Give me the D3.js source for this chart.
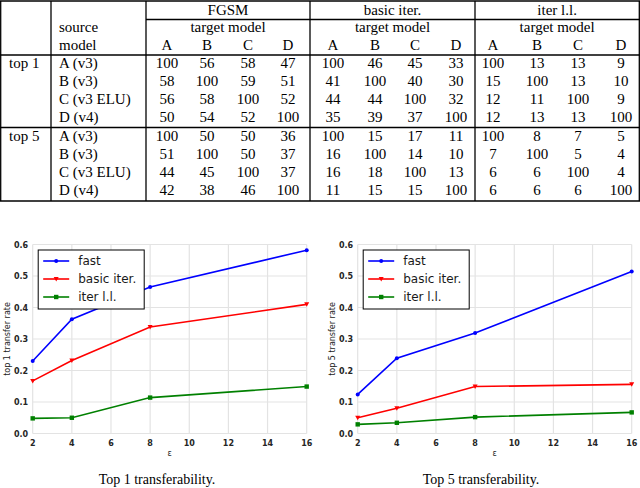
<!DOCTYPE html>
<html>
<head>
<meta charset="utf-8">
<script src="https://d3js.org/d3.v7.min.js"></script>
<style>
  body { margin: 0; background: #fff; }
</style>
</head>
<body>
<script>
// table data
var methods = ["FGSM", "basic iter.", "iter l.l."];
var targets = ["A", "B", "C", "D"];
var sources = ["A (v3)", "B (v3)", "C (v3 ELU)", "D (v4)"];
var groups = ["top 1", "top 5"];
// rows: source model, columns: method x target
var top1Vals = [
  [100, 56, 58, 47, 100, 46, 45, 33, 100, 13, 13, 9],
  [58, 100, 59, 51, 41, 100, 40, 30, 15, 100, 13, 10],
  [56, 58, 100, 52, 44, 44, 100, 32, 12, 11, 100, 9],
  [50, 54, 52, 100, 35, 39, 37, 100, 12, 13, 13, 100]
];
var top5Vals = [
  [100, 50, 50, 36, 100, 15, 17, 11, 100, 8, 7, 5],
  [51, 100, 50, 37, 16, 100, 14, 10, 7, 100, 5, 4],
  [44, 45, 100, 37, 16, 18, 100, 13, 6, 6, 100, 4],
  [42, 38, 46, 100, 11, 15, 15, 100, 6, 6, 6, 100]
];

// chart data
var eps = [2, 4, 8, 16];
var seriesNames = ["fast", "basic iter.", "iter l.l."];
var top1Fast = [0.23, 0.363, 0.465, 0.582];
var top1Basic = [0.167, 0.232, 0.338, 0.41];
var top1Ll = [0.048, 0.05, 0.114, 0.149];
var top5Fast = [0.124, 0.239, 0.319, 0.514];
var top5Basic = [0.05, 0.08, 0.149, 0.156];
var top5Ll = [0.029, 0.034, 0.052, 0.067];
var xTicks = [2, 4, 6, 8, 10, 12, 14, 16];
var yTicks = [0, 0.1, 0.2, 0.3, 0.4, 0.5, 0.6];

var W = 640, H = 488;
var svg = d3.select("body").append("svg")
  .attr("width", W)
  .attr("height", H);

// ---------- table ----------
var serif = "'Liberation Serif', 'Times New Roman', serif";
// column centres, the groups are not evenly spaced
var groupCenters = [167, 207, 248, 288, 333, 375, 415, 456, 493, 537, 578, 621];
var rowY = [63, 81, 99, 117, 136, 154, 172, 190];
var tbl = svg.append("g").attr("font-family", serif).attr("font-size", 15).attr("fill", "#000");

var lw = 1.3;
function hline(x1, x2, y) {
  tbl.append("line").attr("x1", x1).attr("x2", x2).attr("y1", y).attr("y2", y)
    .attr("stroke", "#000").attr("stroke-width", lw);
}
function vline(x, y1, y2) {
  tbl.append("line").attr("x1", x).attr("x2", x).attr("y1", y1).attr("y2", y2)
    .attr("stroke", "#000").attr("stroke-width", lw);
}
var tTop = 1, tBot = 201;
var vx = [0.7, 51, 146, 310, 475, 639.3];
hline(0, 640, tTop);
hline(146, 640, 19.5);
hline(0, 640, 55);
hline(0, 640, 127.5);
hline(0, 640, tBot);
vx.forEach(function(x) { vline(x, tTop, tBot); });

// method headers
methods.forEach(function(m, i) {
  var cx = (vx[i + 2] + vx[i + 3]) / 2;
  tbl.append("text").attr("x", cx).attr("y", 15).attr("text-anchor", "middle").text(m);
  tbl.append("text").attr("x", cx).attr("y", 32).attr("text-anchor", "middle").text("target model");
  targets.forEach(function(t, j) {
    tbl.append("text").attr("x", groupCenters[i * 4 + j]).attr("y", 50)
      .attr("text-anchor", "middle").text(t);
  });
});
tbl.append("text").attr("x", 59).attr("y", 32).text("source");
tbl.append("text").attr("x", 59).attr("y", 50).text("model");

groups.forEach(function(g, gi) {
  tbl.append("text").attr("x", 9).attr("y", rowY[gi * 4] + 5).text(g);
  var vals = gi === 0 ? top1Vals : top5Vals;
  sources.forEach(function(s, si) {
    var y = rowY[gi * 4 + si] + 5;
    tbl.append("text").attr("x", 59).attr("y", y).text(s);
    vals[si].forEach(function(v, ci) {
      tbl.append("text").attr("x", groupCenters[ci]).attr("y", y)
        .attr("text-anchor", "middle").text(v);
    });
  });
});

// ---------- line charts ----------
var sans = "'DejaVu Sans', sans-serif";
var colors = ["#0000ff", "#ff0000", "#008000"];

function drawChart(left, right, fast, basic, ll, ylabel, caption, capX) {
  var x = d3.scaleLinear().domain([2, 16]).range([left, right]);
  var y = d3.scaleLinear().domain([0, 0.6]).range([433.5, 244.5]);
  var g = svg.append("g");

  // grid
  g.selectAll(".gx").data(xTicks).enter().append("line")
    .attr("x1", d => x(d)).attr("x2", d => x(d))
    .attr("y1", y(0)).attr("y2", y(0.6))
    .attr("stroke", "#e3e3e3").attr("stroke-width", 1.2);
  g.selectAll(".gy").data(yTicks).enter().append("line")
    .attr("x1", x(2)).attr("x2", x(16))
    .attr("y1", d => y(d)).attr("y2", d => y(d))
    .attr("stroke", "#e3e3e3").attr("stroke-width", 1.2);

  // tick labels
  g.selectAll(".tx").data(xTicks).enter().append("text")
    .attr("x", d => x(d)).attr("y", 445.5)
    .attr("text-anchor", "middle")
    .attr("font-family", sans).attr("font-weight", "bold").attr("font-size", 8)
    .attr("fill", "#262626").text(d => d);
  g.selectAll(".ty").data(yTicks).enter().append("text")
    .attr("x", left - 4.5).attr("y", d => y(d) + 3)
    .attr("text-anchor", "end")
    .attr("font-family", sans).attr("font-weight", "bold").attr("font-size", 8)
    .attr("fill", "#262626").text(d => d3.format(".1f")(d));

  g.append("text").attr("x", (left + right) / 2).attr("y", 456)
    .attr("text-anchor", "middle").attr("font-family", sans).attr("font-size", 8)
    .attr("fill", "#262626").text("ε");
  g.append("text")
    .attr("transform", "translate(" + (left - 23) + "," + ((y(0) + y(0.6)) / 2) + ") rotate(-90)")
    .attr("text-anchor", "middle").attr("font-family", sans).attr("font-size", 8)
    .attr("fill", "#1a1a1a").text(ylabel);

  var line = d3.line().x((d, i) => x(eps[i])).y(d => y(d));
  var all = [fast, basic, ll];
  all.forEach(function(s, si) {
    g.append("path").attr("d", line(s)).attr("fill", "none")
      .attr("stroke", colors[si]).attr("stroke-width", 1.6);
    drawMarkers(g, s.map((v, i) => [x(eps[i]), y(v)]), si);
  });

  // legend
  var lx = left + 5.5, ly = 250;
  var lg = g.append("g");
  lg.append("rect").attr("x", lx).attr("y", ly).attr("width", 106).attr("height", 59)
    .attr("fill", "#fff").attr("stroke", "#000").attr("stroke-width", 1);
  seriesNames.forEach(function(n, i) {
    var yy = ly + 11 + i * 18;
    lg.append("line").attr("x1", lx + 5).attr("x2", lx + 31).attr("y1", yy).attr("y2", yy)
      .attr("stroke", colors[i]).attr("stroke-width", 1.6);
    drawMarkers(lg, [[lx + 18, yy]], i);
    lg.append("text").attr("x", lx + 40).attr("y", yy + 4)
      .attr("font-family", sans).attr("font-size", 12).attr("fill", "#1a1a1a").text(n);
  });

  svg.append("text").attr("x", capX).attr("y", 484)
    .attr("text-anchor", "middle").attr("font-family", serif).attr("font-size", 14)
    .text(caption);
}

function drawMarkers(g, pts, si) {
  var c = colors[si];
  pts.forEach(function(p) {
    if (si === 0) {
      g.append("circle").attr("cx", p[0]).attr("cy", p[1]).attr("r", 2).attr("fill", c);
    } else if (si === 1) {
      g.append("path")
        .attr("d", "M" + (p[0] - 2.5) + "," + (p[1] - 2) + "L" + (p[0] + 2.5) + "," + (p[1] - 2) + "L" + p[0] + "," + (p[1] + 2.5) + "Z")
        .attr("fill", c);
    } else {
      g.append("rect").attr("x", p[0] - 2.2).attr("y", p[1] - 2.2)
        .attr("width", 4.4).attr("height", 4.4).attr("fill", c);
    }
  });
}

drawChart(32.7, 306.7, top1Fast, top1Basic, top1Ll, "top 1 transfer rate", "Top 1 transferability.", 157);
drawChart(357.7, 631.7, top5Fast, top5Basic, top5Ll, "top 5 transfer rate", "Top 5 transferability.", 481);
</script>
</body>
</html>
